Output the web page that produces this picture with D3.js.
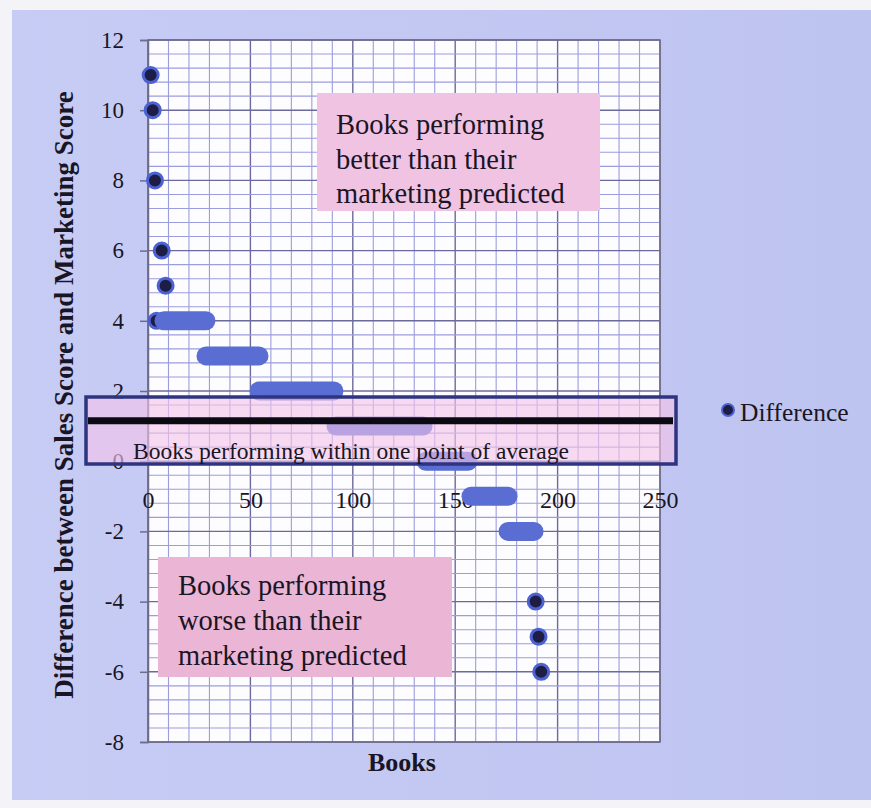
<!DOCTYPE html>
<html>
<head>
<meta charset="utf-8">
<script src="https://cdn.jsdelivr.net/npm/d3@7/dist/d3.min.js"></script>
<style>
  html, body { margin: 0; padding: 0; background: #f3f3f8; }
  svg { display: block; }
  text { font-family: "Liberation Serif", "DejaVu Serif", serif; fill: #1a1525; }
</style>
</head>
<body>
<svg id="chart" width="871" height="808"></svg>
<script>
// Books sorted by (sales score - marketing score)
// Individual books plotted as single markers
const singleBooks = [1.3, 2.3, 3.4, 6.7, 8.6, 4.2, 189.3, 190.7, 192.0];
const singleDiffs = [11, 10, 8, 6, 5, 4, -4, -5, -6];

// Runs of consecutive books sharing the same difference
const runDiffs = [4, 3, 2, 1, 0, -1, -2];
const runFirstBook = [7.8, 28.3, 54.2, 91.8, 135.7, 157.7, 175.8];
const runLastBook = [28.3, 54.2, 90.8, 134.3, 156.3, 175.8, 188.5];

// Average difference line
const averageDiff = 1.15;

const xTicks = [0, 50, 100, 150, 200, 250];
const yTicks = [-8, -6, -4, -2, 0, 2, 4, 6, 8, 10, 12];

const seriesName = "Difference";
const yTitle = "Difference between Sales Score and Marketing Score";
const xTitle = "Books";
const betterNote = ["Books performing", "better than their", "marketing predicted"];
const worseNote = ["Books performing", "worse than their", "marketing predicted"];
const bandNote = "Books performing within one point of average";

const svg = d3.select("#chart");

// Slide background
const defs = svg.append("defs");
const grad = defs.append("linearGradient").attr("id", "bg")
  .attr("x1", "0").attr("y1", "0").attr("x2", "1").attr("y2", "0");
grad.append("stop").attr("offset", "0").attr("stop-color", "#c7ccf5");
grad.append("stop").attr("offset", "1").attr("stop-color", "#bec4f0");
svg.append("rect").attr("x", 12).attr("y", 10).attr("width", 859).attr("height", 790)
  .attr("fill", "url(#bg)");

const x = d3.scaleLinear().domain([0, 250]).range([148, 660]);
const y = d3.scaleLinear().domain([-8, 12]).range([742, 40]);

// Plot area and grid
svg.append("rect")
  .attr("x", x(0)).attr("y", y(12))
  .attr("width", x(250) - x(0)).attr("height", y(-8) - y(12))
  .attr("fill", "#fdfdff");

const grid = svg.append("g");
grid.selectAll("line.v").data(d3.range(0, 251, 10)).join("line")
  .attr("x1", d => x(d)).attr("x2", d => x(d))
  .attr("y1", y(12)).attr("y2", y(-8))
  .attr("stroke", d => d % 50 === 0 ? "#6c6a9c" : "#9c9ddc")
  .attr("stroke-width", d => d % 50 === 0 ? 1.4 : 1.1);
grid.selectAll("line.h").data(d3.range(0, 51).map(i => -8 + i * 0.4)).join("line")
  .attr("x1", x(0)).attr("x2", x(250))
  .attr("y1", d => y(d)).attr("y2", d => y(d))
  .attr("stroke", (d, i) => i % 5 === 0 ? "#6c6a9c" : "#9c9ddc")
  .attr("stroke-width", (d, i) => i % 5 === 0 ? 1.4 : 1.1);

svg.append("rect")
  .attr("x", x(0)).attr("y", y(12))
  .attr("width", x(250) - x(0)).attr("height", y(-8) - y(12))
  .attr("fill", "none").attr("stroke", "#6f6c88").attr("stroke-width", 1.5);

// Y axis
const yAxis = svg.append("g").attr("transform", `translate(${x(0)},0)`)
  .call(d3.axisLeft(y).tickValues(yTicks).tickSize(8).tickPadding(16).tickFormat(d => String(d)));
yAxis.select(".domain").attr("stroke", "#6f6c88").attr("stroke-width", 1.5);
yAxis.selectAll(".tick line").attr("stroke", "#6f6c88").attr("stroke-width", 1.5);
yAxis.selectAll("text").style("font-size", "23px").attr("fill", "#1a1525")
  .style("font-family", "Liberation Serif, serif");

// X axis labels
const xAxis = svg.append("g").attr("transform", `translate(0,${y(0)})`)
  .call(d3.axisBottom(x).tickValues(xTicks).tickSize(0).tickPadding(30).tickFormat(d => String(d)));
xAxis.select(".domain").attr("stroke", "#6f6c88").attr("stroke-width", 1.5);
xAxis.selectAll("text").style("font-size", "24px").attr("fill", "#1a1525")
  .style("font-family", "Liberation Serif, serif");

// Note boxes
function noteBox(x0, y0, w, h, fill, lines, tx, ty0, lh) {
  svg.append("rect").attr("x", x0).attr("y", y0).attr("width", w).attr("height", h).attr("fill", fill);
  svg.append("text").attr("x", tx).attr("y", ty0).style("font-size", "28.5px")
    .selectAll("tspan").data(lines).join("tspan")
    .attr("x", tx).attr("dy", (d, i) => i === 0 ? 0 : lh).text(d => d);
}
noteBox(317, 93, 283, 118, "#f1c3e2", betterNote, 336, 134, 34.5);
noteBox(158, 557, 294, 120, "#ebb6d5", worseNote, 178, 595, 35);

// Single markers
svg.append("g").selectAll("circle").data(singleBooks).join("circle")
  .attr("cx", d => x(d)).attr("cy", (d, i) => y(singleDiffs[i]))
  .attr("r", 7.5)
  .attr("fill", "#1d1d45").attr("stroke", "#4d62d2").attr("stroke-width", 3);

// Runs of overlapping markers
svg.append("g").selectAll("line").data(runDiffs).join("line")
  .attr("x1", (d, i) => x(runFirstBook[i])).attr("x2", (d, i) => x(runLastBook[i]))
  .attr("y1", d => y(d)).attr("y2", d => y(d))
  .attr("stroke", "#5a6dd3").attr("stroke-width", 19).attr("stroke-linecap", "round");

// Band around the average
svg.append("rect").attr("x", 86).attr("y", 397).attr("width", 590).attr("height", 67)
  .attr("fill", "#f4c4e8").attr("fill-opacity", 0.62)
  .attr("stroke", "#2e3580").attr("stroke-width", 3.5);
svg.append("line").attr("x1", 88).attr("x2", 673)
  .attr("y1", y(averageDiff)).attr("y2", y(averageDiff))
  .attr("stroke", "#0b0a12").attr("stroke-width", 7);
svg.append("text").attr("x", 133).attr("y", 459).style("font-size", "23.5px").text(bandNote);

// Axis titles
svg.append("text")
  .attr("transform", `translate(73,${(y(12) + y(-8)) / 2 + 4}) rotate(-90)`)
  .attr("text-anchor", "middle").style("font-size", "27px").style("font-weight", "bold")
  .text(yTitle);
svg.append("text").attr("x", 402).attr("y", 771).attr("text-anchor", "middle")
  .style("font-size", "26px").style("font-weight", "bold").text(xTitle);

// Legend
svg.append("circle").attr("cx", 728).attr("cy", 410).attr("r", 6)
  .attr("fill", "#1d1d45").attr("stroke", "#4d62d2").attr("stroke-width", 2);
svg.append("text").attr("x", 740).attr("y", 421).style("font-size", "25.5px").text(seriesName);
</script>
</body>
</html>
